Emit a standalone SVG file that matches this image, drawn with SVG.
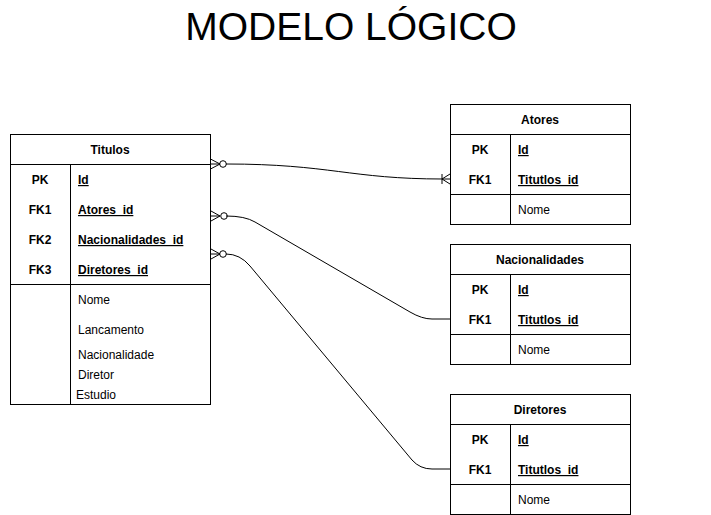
<svg xmlns="http://www.w3.org/2000/svg" width="711" height="515" viewBox="0 0 711 515">
<style>
text{font-family:"Liberation Sans",Arial,sans-serif;font-size:12px;fill:#000}
.b{font-weight:bold}
.u{text-decoration:underline}
.c{text-anchor:middle}
.box{fill:#fff;stroke:#000;stroke-width:1}
.ln{fill:none;stroke:#000;stroke-width:1}
</style>
<rect width="711" height="515" fill="#fff"/>
<text x="351" y="40" class="c" style="font-size:39px">MODELO LÓGICO</text>

<g id="titulos">
<rect class="box" x="10.5" y="134.5" width="200" height="270"/>
<line class="ln" x1="10.5" y1="164.5" x2="210.5" y2="164.5"/>
<line class="ln" x1="10.5" y1="284.5" x2="210.5" y2="284.5"/>
<line class="ln" x1="70.5" y1="164.5" x2="70.5" y2="404.5"/>
<text x="110" y="154" class="b c">Titulos</text>
<text x="40" y="184" class="b c">PK</text>
<text x="40" y="214" class="b c">FK1</text>
<text x="40" y="244" class="b c">FK2</text>
<text x="40" y="274" class="b c">FK3</text>
<text x="78" y="184" class="b u">Id</text>
<text x="78" y="214" class="b u">Atores_id</text>
<text x="78" y="244" class="b u">Nacionalidades_id</text>
<text x="78" y="274" class="b u">Diretores_id</text>
<text x="78" y="304">Nome</text>
<text x="78" y="334">Lancamento</text>
<text x="78" y="359">Nacionalidade</text>
<text x="78" y="379">Diretor</text>
<text x="76" y="399">Estudio</text>
</g>

<g id="atores">
<rect class="box" x="450.5" y="104.5" width="180" height="120"/>
<line class="ln" x1="450.5" y1="134.5" x2="630.5" y2="134.5"/>
<line class="ln" x1="450.5" y1="194.5" x2="630.5" y2="194.5"/>
<line class="ln" x1="510.5" y1="134.5" x2="510.5" y2="224.5"/>
<text x="540" y="124" class="b c">Atores</text>
<text x="480" y="154" class="b c">PK</text>
<text x="480" y="184" class="b c">FK1</text>
<text x="518" y="154" class="b u">Id</text>
<text x="518" y="184" class="b u">Titutlos_id</text>
<text x="518" y="214">Nome</text>
</g>

<g id="nacionalidades">
<rect class="box" x="450.5" y="244.5" width="180" height="120"/>
<line class="ln" x1="450.5" y1="274.5" x2="630.5" y2="274.5"/>
<line class="ln" x1="450.5" y1="334.5" x2="630.5" y2="334.5"/>
<line class="ln" x1="510.5" y1="274.5" x2="510.5" y2="364.5"/>
<text x="540" y="264" class="b c">Nacionalidades</text>
<text x="480" y="294" class="b c">PK</text>
<text x="480" y="324" class="b c">FK1</text>
<text x="518" y="294" class="b u">Id</text>
<text x="518" y="324" class="b u">Titutlos_id</text>
<text x="518" y="354">Nome</text>
</g>

<g id="diretores">
<rect class="box" x="450.5" y="394.5" width="180" height="120"/>
<line class="ln" x1="450.5" y1="424.5" x2="630.5" y2="424.5"/>
<line class="ln" x1="450.5" y1="484.5" x2="630.5" y2="484.5"/>
<line class="ln" x1="510.5" y1="424.5" x2="510.5" y2="514.5"/>
<text x="540" y="414" class="b c">Diretores</text>
<text x="480" y="444" class="b c">PK</text>
<text x="480" y="474" class="b c">FK1</text>
<text x="518" y="444" class="b u">Id</text>
<text x="518" y="474" class="b u">Titutlos_id</text>
<text x="518" y="504">Nome</text>
</g>

<g id="connectors" class="ln">
<path class="ln" d="M226,164 C330,164 350,179 443,179 L450,179"/>
<path class="ln" d="M226,216 Q245,216 255,222 L410,312 Q422,319 432,319 L450,319"/>
<path class="ln" d="M226,254 Q240,254 250,266 L412,460 Q420,469 432,469 L450,469"/>
<!-- zero-to-many markers at Titulos -->
<path class="ln" d="M210.5,159 L220,164 L210.5,169 M210.5,164 L220,164"/>
<circle class="ln" cx="223" cy="164" r="3.3" fill="#fff"/>
<path class="ln" d="M211,211 L220,216 L211,221 M211,216 L220,216"/>
<circle class="ln" cx="224" cy="216" r="3.3" fill="#fff"/>
<path class="ln" d="M211,249 L220,254 L211,259 M211,254 L220,254"/>
<circle class="ln" cx="223" cy="254" r="3.3" fill="#fff"/>
<!-- one-to-many marker at Atores -->
<path class="ln" d="M450,174 L442,179 L450,184 M442,174 L442,184"/>
</g>
</svg>
